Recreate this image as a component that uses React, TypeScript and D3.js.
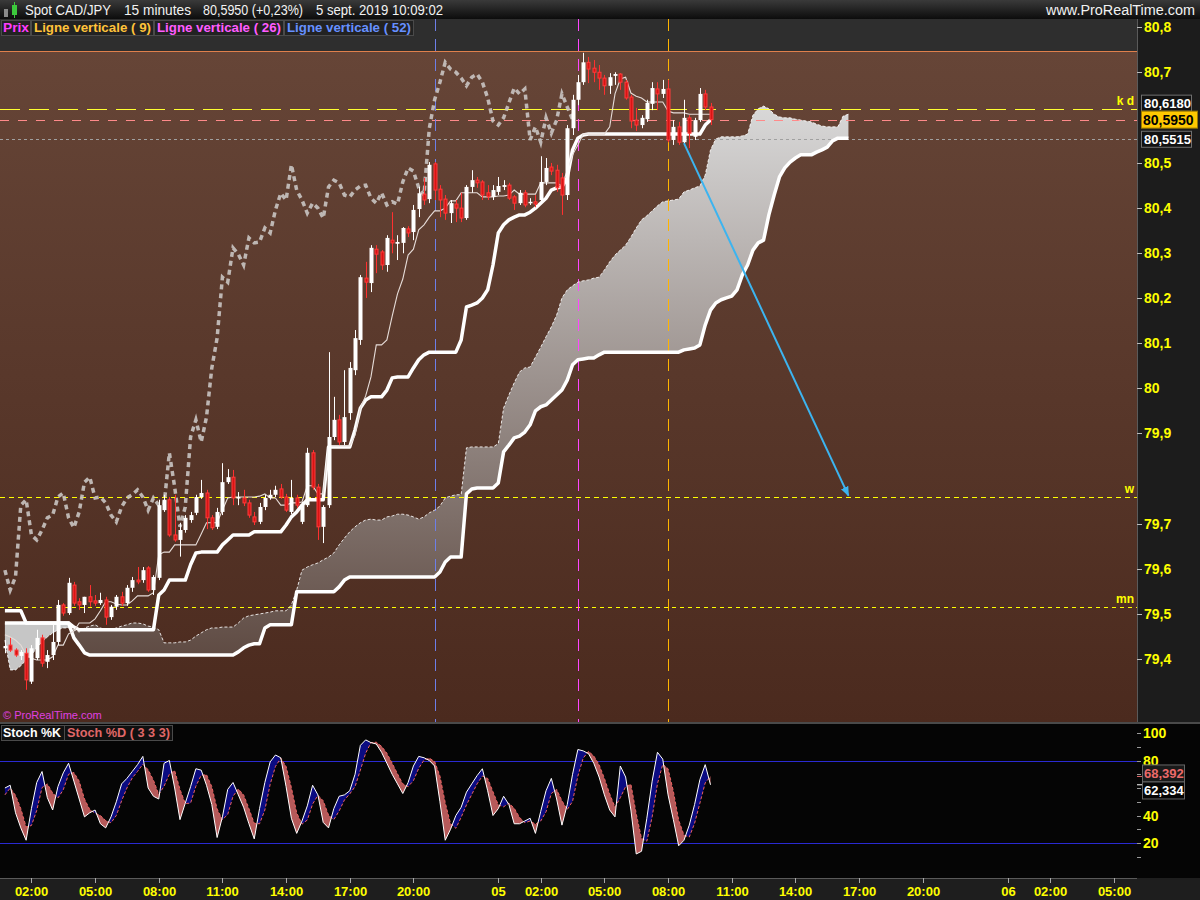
import React, { FC, useMemo } from 'react'
import * as d3 from 'd3'

type Candle = [number, number, number, number] // open, high, low, close

// bougies 15 minutes, première bougie le 04/09/2019 à 00:45
const firstBar = new Date(2019, 8, 4, 0, 45)
const barMinutes = 15

const candles: Candle[] = [
	[79.424, 79.442, 79.413, 79.429], [79.431, 79.447, 79.416, 79.420], [79.420, 79.424, 79.405, 79.409], [79.407, 79.420, 79.398, 79.416], [79.413, 79.424, 79.332, 79.354],
	[79.350, 79.431, 79.345, 79.424], [79.402, 79.465, 79.398, 79.447], [79.447, 79.454, 79.383, 79.391], [79.394, 79.420, 79.380, 79.409], [79.409, 79.476, 79.398, 79.438],
	[79.438, 79.531, 79.431, 79.520], [79.520, 79.524, 79.496, 79.502], [79.502, 79.580, 79.498, 79.569], [79.564, 79.571, 79.518, 79.524], [79.527, 79.535, 79.509, 79.520],
	[79.520, 79.538, 79.502, 79.538], [79.538, 79.564, 79.516, 79.527], [79.529, 79.542, 79.518, 79.524], [79.524, 79.547, 79.520, 79.531], [79.531, 79.538, 79.476, 79.493],
	[79.493, 79.520, 79.487, 79.516], [79.516, 79.542, 79.509, 79.538], [79.538, 79.549, 79.518, 79.524], [79.524, 79.564, 79.518, 79.558], [79.558, 79.582, 79.549, 79.575],
	[79.575, 79.604, 79.566, 79.571], [79.575, 79.604, 79.569, 79.597], [79.602, 79.606, 79.549, 79.553], [79.553, 79.586, 79.542, 79.582], [79.580, 79.753, 79.575, 79.741],
	[79.730, 79.764, 79.726, 79.753], [79.753, 79.759, 79.671, 79.675], [79.675, 79.764, 79.660, 79.664], [79.664, 79.702, 79.627, 79.686], [79.686, 79.719, 79.680, 79.713],
	[79.708, 79.726, 79.702, 79.719], [79.724, 79.764, 79.719, 79.759], [79.759, 79.797, 79.755, 79.768], [79.768, 79.775, 79.688, 79.713], [79.713, 79.719, 79.686, 79.691],
	[79.693, 79.735, 79.688, 79.726], [79.726, 79.834, 79.719, 79.792], [79.792, 79.821, 79.788, 79.803], [79.803, 79.819, 79.741, 79.757], [79.757, 79.770, 79.741, 79.759],
	[79.757, 79.775, 79.739, 79.746], [79.746, 79.753, 79.713, 79.719], [79.715, 79.726, 79.697, 79.704], [79.704, 79.746, 79.699, 79.737], [79.737, 79.764, 79.730, 79.757],
	[79.757, 79.775, 79.753, 79.764], [79.764, 79.784, 79.759, 79.775], [79.777, 79.788, 79.755, 79.759], [79.759, 79.766, 79.726, 79.730], [79.726, 79.797, 79.721, 79.757],
	[79.757, 79.764, 79.735, 79.741], [79.704, 79.748, 79.699, 79.741], [79.741, 79.868, 79.737, 79.857], [79.857, 79.863, 79.775, 79.781], [79.781, 79.788, 79.664, 79.693],
	[79.693, 79.741, 79.657, 79.737], [79.741, 80.080, 79.735, 79.892], [79.892, 79.981, 79.885, 79.930], [79.930, 79.941, 79.874, 79.881], [79.881, 80.040, 79.874, 79.936],
	[79.945, 80.058, 79.930, 80.045], [80.040, 80.129, 80.029, 80.111], [80.107, 80.251, 80.096, 80.246], [80.244, 80.280, 80.200, 80.235], [80.233, 80.317, 80.213, 80.311],
	[80.308, 80.317, 80.255, 80.297], [80.302, 80.306, 80.262, 80.273], [80.273, 80.339, 80.258, 80.333], [80.328, 80.390, 80.299, 80.322], [80.320, 80.339, 80.284, 80.324],
	[80.322, 80.357, 80.299, 80.355], [80.353, 80.359, 80.335, 80.344], [80.346, 80.406, 80.328, 80.395], [80.397, 80.446, 80.379, 80.432], [80.430, 80.466, 80.406, 80.417],
	[80.419, 80.501, 80.410, 80.495], [80.497, 80.501, 80.417, 80.439], [80.441, 80.450, 80.379, 80.417], [80.419, 80.428, 80.373, 80.388], [80.388, 80.417, 80.366, 80.410],
	[80.408, 80.417, 80.368, 80.399], [80.399, 80.433, 80.368, 80.377], [80.377, 80.450, 80.373, 80.446], [80.446, 80.483, 80.433, 80.461], [80.461, 80.468, 80.444, 80.455],
	[80.457, 80.461, 80.417, 80.428], [80.433, 80.450, 80.417, 80.424], [80.424, 80.450, 80.417, 80.439], [80.435, 80.468, 80.428, 80.448], [80.446, 80.461, 80.439, 80.450],
	[80.450, 80.455, 80.417, 80.421], [80.424, 80.428, 80.395, 80.410], [80.410, 80.439, 80.406, 80.433], [80.433, 80.439, 80.401, 80.406], [80.410, 80.421, 80.406, 80.413],
	[80.413, 80.428, 80.401, 80.408], [80.417, 80.514, 80.410, 80.457], [80.457, 80.510, 80.450, 80.488], [80.490, 80.499, 80.472, 80.481], [80.483, 80.495, 80.435, 80.444],
	[80.466, 80.477, 80.384, 80.428], [80.428, 80.583, 80.417, 80.576], [80.576, 80.650, 80.561, 80.639], [80.639, 80.694, 80.627, 80.678], [80.678, 80.743, 80.672, 80.722],
	[80.722, 80.734, 80.676, 80.707], [80.709, 80.727, 80.678, 80.700], [80.700, 80.716, 80.661, 80.687], [80.687, 80.694, 80.650, 80.670], [80.670, 80.698, 80.652, 80.689],
	[80.692, 80.700, 80.672, 80.696], [80.696, 80.698, 80.661, 80.678], [80.678, 80.683, 80.639, 80.643], [80.645, 80.650, 80.576, 80.592], [80.594, 80.621, 80.570, 80.583],
	[80.583, 80.605, 80.576, 80.599], [80.596, 80.639, 80.590, 80.632], [80.630, 80.678, 80.616, 80.665], [80.663, 80.678, 80.616, 80.652], [80.652, 80.683, 80.643, 80.663],
	[80.663, 80.683, 80.545, 80.550], [80.550, 80.594, 80.539, 80.579], [80.579, 80.590, 80.539, 80.545], [80.545, 80.639, 80.539, 80.599], [80.599, 80.605, 80.532, 80.565],
	[80.557, 80.599, 80.550, 80.594], [80.594, 80.665, 80.590, 80.652], [80.652, 80.661, 80.616, 80.623], [80.623, 80.632, 80.583, 80.595]
]

// Ichimoku (un point par bougie)
const tenkan = [
	79.454, 79.449, 79.442, 79.431, 79.409, 79.402, 79.398, 79.398, 79.398, 79.405,
	79.431, 79.431, 79.456, 79.462, 79.480, 79.480, 79.480, 79.489, 79.507, 79.527,
	79.527, 79.522, 79.520, 79.520, 79.529, 79.540, 79.540, 79.540, 79.547, 79.631,
	79.637, 79.637, 79.653, 79.653, 79.653, 79.653, 79.653, 79.677, 79.702, 79.702,
	79.702, 79.730, 79.757, 79.759, 79.759, 79.759, 79.759, 79.759, 79.761, 79.766,
	79.757, 79.757, 79.741, 79.741, 79.746, 79.746, 79.748, 79.784, 79.784, 79.766,
	79.766, 79.872, 79.872, 79.872, 79.872, 79.872, 79.896, 79.956, 79.983, 80.025,
	80.096, 80.096, 80.107, 80.160, 80.209, 80.242, 80.295, 80.308, 80.351, 80.362,
	80.379, 80.393, 80.393, 80.399, 80.415, 80.415, 80.433, 80.433, 80.433, 80.433,
	80.424, 80.424, 80.424, 80.426, 80.426, 80.428, 80.439, 80.430, 80.430, 80.430,
	80.430, 80.455, 80.455, 80.455, 80.455, 80.448, 80.483, 80.517, 80.539, 80.563,
	80.563, 80.563, 80.563, 80.563, 80.579, 80.652, 80.685, 80.689, 80.654, 80.647,
	80.643, 80.634, 80.634, 80.634, 80.634, 80.614, 80.610, 80.610, 80.610, 80.607,
	80.607, 80.607, 80.607, 80.607
]

const kijun = [
	79.507, 79.507, 79.507, 79.507, 79.480, 79.480, 79.480, 79.480, 79.480, 79.480,
	79.480, 79.480, 79.480, 79.471, 79.465, 79.465, 79.465, 79.465, 79.465, 79.465,
	79.465, 79.465, 79.465, 79.465, 79.465, 79.465, 79.465, 79.465, 79.465, 79.542,
	79.553, 79.575, 79.575, 79.575, 79.575, 79.609, 79.635, 79.637, 79.637, 79.637,
	79.637, 79.653, 79.664, 79.675, 79.675, 79.675, 79.675, 79.682, 79.682, 79.682,
	79.682, 79.682, 79.682, 79.697, 79.715, 79.726, 79.741, 79.753, 79.753, 79.753,
	79.753, 79.870, 79.870, 79.870, 79.870, 79.870, 79.908, 79.956, 79.974, 79.981,
	79.981, 79.981, 79.996, 80.023, 80.025, 80.025, 80.025, 80.045, 80.063, 80.074,
	80.080, 80.080, 80.080, 80.080, 80.080, 80.080, 80.107, 80.180, 80.184, 80.189,
	80.200, 80.218, 80.273, 80.344, 80.362, 80.373, 80.379, 80.384, 80.384, 80.390,
	80.399, 80.410, 80.421, 80.439, 80.444, 80.446, 80.466, 80.528, 80.554, 80.561,
	80.563, 80.563, 80.563, 80.563, 80.563, 80.563, 80.563, 80.563, 80.563, 80.563,
	80.563, 80.563, 80.563, 80.563, 80.563, 80.563, 80.563, 80.563, 80.563, 80.563,
	80.563, 80.563, 80.583, 80.594
]

// nuage : 26 bougies de plus que le prix
const senkouA = [
	79.442, 79.376, 79.376, 79.385, 79.398, 79.409, 79.425, 79.438, 79.449, 79.458,
	79.465, 79.469, 79.469, 79.465, 79.460, 79.469, 79.473, 79.476, 79.469, 79.465,
	79.465, 79.469, 79.473, 79.476, 79.480, 79.480, 79.478, 79.473, 79.471, 79.465,
	79.436, 79.436, 79.436, 79.438, 79.438, 79.442, 79.451, 79.458, 79.465, 79.469,
	79.469, 79.471, 79.471, 79.471, 79.480, 79.491, 79.496, 79.498, 79.500, 79.502,
	79.504, 79.507, 79.507, 79.507, 79.520, 79.553, 79.597, 79.604, 79.609, 79.613,
	79.620, 79.626, 79.635, 79.653, 79.668, 79.682, 79.693, 79.702, 79.708, 79.710,
	79.708, 79.708, 79.715, 79.717, 79.721, 79.721, 79.719, 79.715, 79.710, 79.715,
	79.724, 79.730, 79.739, 79.757, 79.761, 79.764, 79.764, 79.868, 79.870, 79.870,
	79.870, 79.870, 79.870, 79.877, 79.956, 79.985, 80.012, 80.036, 80.045, 80.047,
	80.069, 80.091, 80.114, 80.136, 80.162, 80.200, 80.218, 80.227, 80.235, 80.238,
	80.240, 80.244, 80.246, 80.262, 80.280, 80.295, 80.306, 80.317, 80.335, 80.355,
	80.373, 80.382, 80.393, 80.404, 80.413, 80.415, 80.417, 80.419, 80.435, 80.439,
	80.444, 80.448, 80.472, 80.528, 80.552, 80.557, 80.557, 80.557, 80.557, 80.559,
	80.563, 80.605, 80.619, 80.625, 80.619, 80.607, 80.601, 80.599, 80.599, 80.596,
	80.594, 80.592, 80.590, 80.585, 80.581, 80.579, 80.579, 80.579, 80.603, 80.607
]

const senkouB = [
	79.480, 79.480, 79.480, 79.480, 79.480, 79.480, 79.480, 79.480, 79.480, 79.480,
	79.480, 79.480, 79.480, 79.447, 79.431, 79.414, 79.409, 79.409, 79.409, 79.409,
	79.409, 79.409, 79.409, 79.409, 79.409, 79.409, 79.409, 79.409, 79.409, 79.409,
	79.409, 79.409, 79.409, 79.409, 79.409, 79.409, 79.409, 79.409, 79.409, 79.409,
	79.409, 79.409, 79.409, 79.409, 79.416, 79.425, 79.431, 79.434, 79.434, 79.469,
	79.476, 79.476, 79.476, 79.476, 79.476, 79.549, 79.549, 79.549, 79.549, 79.549,
	79.549, 79.549, 79.549, 79.560, 79.575, 79.582, 79.582, 79.582, 79.582, 79.582,
	79.582, 79.582, 79.582, 79.582, 79.582, 79.582, 79.582, 79.582, 79.582, 79.582,
	79.582, 79.582, 79.593, 79.615, 79.626, 79.626, 79.626, 79.766, 79.777, 79.779,
	79.779, 79.779, 79.779, 79.790, 79.859, 79.874, 79.890, 79.894, 79.903, 79.919,
	79.950, 79.959, 79.963, 79.974, 79.985, 79.996, 80.018, 80.052, 80.063, 80.065,
	80.067, 80.067, 80.074, 80.080, 80.080, 80.080, 80.080, 80.080, 80.080, 80.080,
	80.080, 80.080, 80.080, 80.080, 80.080, 80.080, 80.080, 80.080, 80.085, 80.087,
	80.089, 80.096, 80.140, 80.173, 80.189, 80.196, 80.200, 80.204, 80.218, 80.251,
	80.273, 80.306, 80.322, 80.328, 80.384, 80.428, 80.468, 80.488, 80.501, 80.510,
	80.517, 80.517, 80.517, 80.523, 80.528, 80.534, 80.548, 80.554, 80.554, 80.554
]

// stochastique (3 3 3)
const stochK = [
	60, 62, 42, 31, 22, 45, 64, 72, 53, 44,
	61, 71, 78, 65, 52, 39, 42, 44, 34, 31,
	39, 50, 63, 67, 72, 77, 83, 60, 54, 52,
	78, 80, 60, 37, 49, 61, 74, 73, 62, 48,
	24, 39, 59, 64, 55, 46, 34, 23, 45, 64,
	79, 84, 82, 61, 38, 27, 36, 47, 62, 55,
	35, 31, 45, 54, 55, 58, 70, 91, 95, 93,
	92, 86, 78, 70, 63, 56, 64, 76, 83, 82,
	80, 76, 50, 22, 30, 40, 46, 57, 63, 69,
	74, 58, 40, 45, 54, 48, 34, 34, 36, 38,
	27, 43, 58, 67, 52, 33, 48, 70, 88, 87,
	85, 78, 68, 55, 44, 39, 76, 68, 44, 12,
	14, 38, 65, 86, 81, 55, 37, 18, 22, 33,
	48, 66, 77, 62.334
]

const stochD = [
	55, 60, 54.7, 45, 31.7, 32.7, 43.7, 60.3, 63, 56.3,
	52.7, 58.7, 70, 71.3, 65, 52, 44.3, 41.7, 40, 36.3,
	34.7, 40, 50.7, 60, 67.3, 72, 77.3, 73.3, 65.7, 55.3,
	61.3, 70, 72.7, 59, 48.7, 49, 61.3, 69.3, 69.7, 61,
	44.7, 37, 40.7, 54, 59.3, 55, 45, 34.3, 34, 44,
	62.7, 75.7, 81.7, 75.7, 60.3, 42, 33.7, 36.7, 48.3, 54.7,
	50.7, 40.3, 37, 43.3, 51.3, 55.7, 61, 73, 85.3, 93,
	93.3, 90.3, 85.3, 78, 70.3, 63, 61, 65.3, 74.3, 80.3,
	81.7, 79.3, 68.7, 49.3, 34, 30.7, 38.7, 47.7, 55.3, 63,
	68.7, 67, 57.3, 47.7, 46.3, 49, 45.3, 38.7, 34.7, 36,
	33.7, 36, 42.7, 56, 59, 50.7, 44.3, 50.3, 68.7, 81.7,
	86.7, 83.3, 77, 67, 55.7, 46, 53, 61, 62.7, 41.3,
	23.3, 21.3, 39, 63, 77.3, 74, 57.7, 36.7, 25.7, 24.3,
	34.3, 49, 63.7, 68.392
]

const priceTicks = [80.8, 80.7, 80.5, 80.4, 80.3, 80.2, 80.1, 80, 79.9, 79.7, 79.6, 79.5, 79.4]
const stochTicks = [100, 80, 40, 20]
const stochMinor = [10, 20, 30, 40, 50, 60, 70, 80, 90, 100]
const stochBands = [80, 20]
const timeTicks = [
	'2019-09-04T02:00', '2019-09-04T05:00', '2019-09-04T08:00', '2019-09-04T11:00', '2019-09-04T14:00',
	'2019-09-04T17:00', '2019-09-04T20:00', '2019-09-05T00:00', '2019-09-05T02:00', '2019-09-05T05:00',
	'2019-09-05T08:00', '2019-09-05T11:00', '2019-09-05T14:00', '2019-09-05T17:00', '2019-09-05T20:00',
	'2019-09-06T00:00', '2019-09-06T02:00', '2019-09-06T05:00'
]
const verticals = [
	{ time: '2019-09-04T21:00', color: '#6d7fe8' },
	{ time: '2019-09-05T03:45', color: '#ff46ff' },
	{ time: '2019-09-05T08:00', color: '#ffb400' }
]
const levels = [
	{ price: 80.618, color: '#ffff30', dash: '20 9', label: 'k d' },
	{ price: 80.595, color: '#ff8a8a', dash: '9 9', label: '' },
	{ price: 80.5515, color: '#a0a0a0', dash: '3 3', label: '' },
	{ price: 79.759, color: '#ffff00', dash: '5 4', label: 'w' },
	{ price: 79.515, color: '#ffff00', dash: '4 4', label: 'mn' }
]
const lastPrice = 80.595
const trendArrow = { from: ['2019-09-05T08:45', 80.543], to: ['2019-09-05T16:30', 79.762] }

const font = 'Arial, "Liberation Sans", sans-serif'
const plotRight = 1137
const headerH = 19
const brownTop = 51
const priceBottom = 722
const stochTop = 724
const stochBottom = 878

const parse = d3.timeParse('%Y-%m-%dT%H:%M')
const barTime = (i: number) => new Date(firstBar.getTime() + i * barMinutes * 60000)
const comma = (v: number) => String(v).replace('.', ',')

type Pt = [number, number]
interface IBand {
	up: boolean
	top: Pt[]
	bot: Pt[]
}

// zones entre deux séries, découpées aux croisements
const buildBands = (a: number[], b: number[], xOf: (i: number) => number, yOf: (v: number) => number) => {
	const bands: IBand[] = []
	let cur: IBand | null = null
	for (let i = 0; i < a.length; i++) {
		const d = a[i] - b[i]
		const up = d >= 0
		const pa: Pt = [xOf(i), yOf(a[i])]
		const pb: Pt = [xOf(i), yOf(b[i])]
		if (!cur) {
			cur = { up, top: [pa], bot: [pb] }
			continue
		}
		if (up !== cur.up) {
			const dp = a[i - 1] - b[i - 1]
			const t = dp / (dp - d)
			const xm = xOf(i - 1) + t * (xOf(i) - xOf(i - 1))
			const pm: Pt = [xm, yOf(a[i - 1] + t * (a[i] - a[i - 1]))]
			cur.top.push(pm)
			cur.bot.push(pm)
			bands.push(cur)
			cur = { up, top: [pm, pa], bot: [pm, pb] }
		} else {
			cur.top.push(pa)
			cur.bot.push(pb)
		}
	}
	if (cur) bands.push(cur)
	return bands
}

const bandPath = (b: IBand) =>
	'M' + b.top.map((p) => p.join(',')).join('L') + 'L' + [...b.bot].reverse().map((p) => p.join(',')).join('L') + 'Z'

const App: FC = () => {
	const x = useMemo(
		() => d3.scaleTime().domain([firstBar, barTime(candles.length - 1)]).range([4.9, 710.5]),
		[]
	)
	const y = useMemo(() => d3.scaleLinear().domain([79.4, 80.8]).range([659.1, 27.1]), [])
	const ys = useMemo(() => d3.scaleLinear().domain([0, 100]).range([870.5, 733]), [])

	const xi = (i: number) => x(barTime(i))
	const line = (vals: number[], sc: (v: number) => number) =>
		d3
			.line<number>()
			.x((_, i) => xi(i))
			.y((d) => sc(d))(vals) || ''

	const cloud = useMemo(() => buildBands(senkouA, senkouB, xi, y), [])
	const stoch = useMemo(() => buildBands(stochK, stochD, xi, ys), [])
	const chikou = candles.slice(26).map((c) => c[3])

	const ax = x(parse(trendArrow.from[0] as string) as Date)
	const ay = y(trendArrow.from[1] as number)
	const bx = x(parse(trendArrow.to[0] as string) as Date)
	const by = y(trendArrow.to[1] as number)

	const yLast = y(lastPrice)
	const lastK = stochK[stochK.length - 1]
	const lastD = stochD[stochD.length - 1]

	return (
		<svg
			width={1200}
			height={900}
			style={{ position: 'absolute', left: 0, top: 0, display: 'block', background: '#1e1e1e' }}
			fontFamily={font}
		>
			<defs>
				<linearGradient id="head" x1="0" y1="0" x2="0" y2="1">
					<stop offset="0" stopColor="#3a3a3a" />
					<stop offset="1" stopColor="#0c0c0c" />
				</linearGradient>
				<linearGradient id="brown" x1="0" y1="0" x2="0" y2="1">
					<stop offset="0" stopColor="#664537" />
					<stop offset="1" stopColor="#4b2a1e" />
				</linearGradient>
				<linearGradient id="cloud" gradientUnits="userSpaceOnUse" x1="0" y1="100" x2="0" y2="660">
					<stop offset="0" stopColor="#dadada" />
					<stop offset="1" stopColor="#5e4a42" />
				</linearGradient>
				<marker id="arr" viewBox="0 0 10 10" refX="9" refY="5" markerWidth="10" markerHeight="10" orient="auto" markerUnits="userSpaceOnUse">
					<path d="M0,1 L10,5 L0,9 Z" fill="#3cb4f0" />
				</marker>
				<clipPath id="pricePlot">
					<rect x={0} y={headerH} width={plotRight} height={priceBottom - headerH} />
				</clipPath>
				<clipPath id="stochPlot">
					<rect x={0} y={stochTop} width={plotRight} height={stochBottom - stochTop} />
				</clipPath>
			</defs>

			{/* en-tête */}
			<rect x={0} y={0} width={1200} height={headerH} fill="url(#head)" />
			<rect x={4} y={9} width={4} height={8} fill="#8a8a8a" />
			<line x1={14.5} x2={14.5} y1={2} y2={18} stroke="#3cc83c" />
			<rect x={12} y={5} width={5} height={10} fill="#3cc83c" />
			<g fill="#f2f2f2" fontSize={14}>
				<text x={25} y={15} textLength={86} lengthAdjust="spacingAndGlyphs">Spot CAD/JPY</text>
				<text x={124} y={15} textLength={67} lengthAdjust="spacingAndGlyphs">15 minutes</text>
				<text x={203} y={15} textLength={100} lengthAdjust="spacingAndGlyphs">80,5950 (+0,23%)</text>
				<text x={316} y={15} textLength={127} lengthAdjust="spacingAndGlyphs">5 sept. 2019 10:09:02</text>
				<text x={1046} y={15} textLength={149} lengthAdjust="spacingAndGlyphs">www.ProRealTime.com</text>
			</g>

			{/* panneau prix */}
			<rect x={0} y={headerH} width={plotRight} height={brownTop - headerH} fill="#2e2e2e" />
			<rect x={0} y={brownTop} width={plotRight} height={priceBottom - brownTop} fill="url(#brown)" />
			<line x1={0} x2={plotRight} y1={brownTop + 0.5} y2={brownTop + 0.5} stroke="#e0804c" />
			<rect x={plotRight} y={headerH} width={1200 - plotRight} height={priceBottom - headerH} fill="#1c1c1c" />

			<g clipPath="url(#pricePlot)">
				{cloud.map((b, i) => (
					<path key={i} d={bandPath(b)} fill={b.up ? 'url(#cloud)' : '#c6c6c6'} />
				))}

				{levels.map((l, i) => (
					<line
						key={i}
						x1={0}
						x2={plotRight}
						y1={Math.round(y(l.price)) + 0.5}
						y2={Math.round(y(l.price)) + 0.5}
						stroke={l.color}
						strokeDasharray={l.dash}
					/>
				))}

				{verticals.map((v, i) => {
					const vx = Math.round(x(parse(v.time) as Date)) + 0.5
					return (
						<line key={i} x1={vx} x2={vx} y1={headerH} y2={priceBottom} stroke={v.color} strokeDasharray="12 8" />
					)
				})}

				<path
					d={line(chikou, y)}
					fill="none"
					stroke="#c9c4c2"
					strokeWidth={3.5}
					strokeDasharray="5 4"
					opacity={0.9}
				/>
				<path d={line(senkouA, y)} fill="none" stroke="#ffffff" strokeWidth={1} strokeDasharray="3 2" opacity={0.85} />
				<path d={line(senkouB, y)} fill="none" stroke="#ffffff" strokeWidth={3.5} strokeLinejoin="round" />
				<path d={line(kijun, y)} fill="none" stroke="#ffffff" strokeWidth={3.5} strokeLinejoin="round" />
				<path d={line(tenkan, y)} fill="none" stroke="#e6dcd8" strokeWidth={1.1} />

				{candles.map(([o, h, l, c], i) => {
					const cx = Math.round(xi(i)) + 0.5
					const up = c >= o
					const top = y(Math.max(o, c))
					const bot = y(Math.min(o, c))
					return (
						<g key={i}>
							<line x1={cx} x2={cx} y1={y(h)} y2={y(l)} stroke={up ? '#ffffff' : '#ff3030'} />
							{up ? (
								<rect x={cx - 2} y={top} width={4} height={Math.max(1.5, bot - top)} fill="#ffffff" />
							) : (
								<rect
									x={cx - 1.5}
									y={top}
									width={3}
									height={Math.max(1, bot - top)}
									fill="#d81414"
									stroke="#ff3c3c"
									strokeWidth={1}
								/>
							)}
						</g>
					)
				})}

				<line x1={ax} y1={ay} x2={bx} y2={by} stroke="#3cb4f0" strokeWidth={2} markerEnd="url(#arr)" />
			</g>

			{/* libellés des niveaux */}
			{levels
				.filter((l) => l.label)
				.map((l, i) => (
					<text
						key={i}
						x={plotRight - 3}
						y={y(l.price) - 4}
						textAnchor="end"
						fill="#ffff00"
						fontSize={12}
						fontWeight="bold"
					>
						{l.label}
					</text>
				))}

			{/* légende prix */}
			<g fontSize={13} fontWeight="bold">
				<rect x={1.5} y={20.5} width={29} height={15} fill="#222" stroke="#4a4a4a" />
				<text x={3} y={32} fill="#ff3cff" textLength={26} lengthAdjust="spacingAndGlyphs">Prix</text>
				<rect x={31.5} y={20.5} width={122} height={15} fill="#222" stroke="#4a4a4a" />
				<text x={34} y={32} fill="#ffc23a" textLength={117} lengthAdjust="spacingAndGlyphs">Ligne verticale ( 9)</text>
				<rect x={154.5} y={20.5} width={129} height={15} fill="#222" stroke="#4a4a4a" />
				<text x={157} y={32} fill="#ff5cff" textLength={124} lengthAdjust="spacingAndGlyphs">Ligne verticale ( 26)</text>
				<rect x={284.5} y={20.5} width={129} height={15} fill="#222" stroke="#4a4a4a" />
				<text x={287} y={32} fill="#6690ff" textLength={124} lengthAdjust="spacingAndGlyphs">Ligne verticale ( 52)</text>
			</g>
			<text x={3} y={719} fill="#e040e0" fontSize={11}>© ProRealTime.com</text>

			{/* axe des prix */}
			<line x1={plotRight + 0.5} x2={plotRight + 0.5} y1={headerH} y2={stochBottom} stroke="#5a5a5a" />
			{priceTicks.map((p) => (
				<g key={p}>
					<line x1={plotRight} x2={plotRight + 5} y1={Math.round(y(p)) + 0.5} y2={Math.round(y(p)) + 0.5} stroke="#bbbbbb" />
					<text x={plotRight + 7} y={y(p)} dy="0.36em" fill="#ffff00" fontSize={14} fontWeight="bold">
						{comma(p)}
					</text>
				</g>
			))}
			<g fontWeight="bold">
				<rect x={plotRight + 4.5} y={yLast - 24.5} width={50} height={16} fill="#121212" stroke="#707070" />
				<text x={plotRight + 7} y={yLast - 16.5} dy="0.36em" fill="#ffffff" fontSize={13}>
					80,6180
				</text>
				<rect x={plotRight + 4.5} y={yLast - 8.5} width={56} height={17} fill="#ffc800" stroke="#9a7a00" />
				<text x={plotRight + 6} y={yLast} dy="0.36em" fill="#000000" fontSize={14}>
					{comma(lastPrice) + '0'}
				</text>
				<rect x={plotRight + 4.5} y={y(80.5515) - 8} width={50} height={16} fill="#121212" stroke="#707070" />
				<text x={plotRight + 7} y={y(80.5515)} dy="0.36em" fill="#ffffff" fontSize={13}>
					80,5515
				</text>
			</g>

			{/* séparation */}
			<rect x={0} y={priceBottom} width={1200} height={stochTop - priceBottom} fill="#4a4a4a" />

			{/* panneau stochastique */}
			<rect x={0} y={stochTop} width={1200} height={stochBottom - stochTop} fill="#050505" />
			<g clipPath="url(#stochPlot)">
				{stochBands.map((v) => (
					<line key={v} x1={0} x2={plotRight} y1={Math.round(ys(v)) + 0.5} y2={Math.round(ys(v)) + 0.5} stroke="#2a2ad2" />
				))}
				{stoch.map((b, i) => (
					<path key={i} d={bandPath(b)} fill={b.up ? '#0b0b82' : '#b65a5a'} />
				))}
				<path d={line(stochD, ys)} fill="none" stroke="#ec6262" strokeWidth={1} strokeDasharray="3 2" />
				<path d={line(stochK, ys)} fill="none" stroke="#ffffff" strokeWidth={1} />
			</g>
			<g fontSize={13} fontWeight="bold">
				<rect x={1.5} y={725.5} width={63} height={15} fill="#111" stroke="#4a4a4a" />
				<text x={3} y={737} fill="#ffffff" textLength={58} lengthAdjust="spacingAndGlyphs">Stoch %K</text>
				<rect x={64.5} y={725.5} width={108} height={15} fill="#111" stroke="#4a4a4a" />
				<text x={67} y={737} fill="#e06868" textLength={103} lengthAdjust="spacingAndGlyphs">Stoch %D ( 3 3 3)</text>
			</g>
			{stochMinor.map((v) => (
				<line key={v} x1={plotRight} x2={plotRight + 4} y1={Math.round(ys(v)) + 0.5} y2={Math.round(ys(v)) + 0.5} stroke="#999999" />
			))}
			{stochTicks.map((v) => (
				<text key={v} x={plotRight + 6} y={ys(v)} dy="0.36em" fill="#ffff00" fontSize={14} fontWeight="bold">
					{v}
				</text>
			))}
			<g fontWeight="bold" fontSize={13}>
				<line x1={plotRight} x2={plotRight + 5} y1={ys(lastD)} y2={ys(lastD)} stroke="#e06868" />
				<rect x={plotRight + 5.5} y={ys(lastD) - 11.5} width={42} height={17} fill="#1a1a1a" stroke="#666" />
				<text x={plotRight + 7} y={ys(lastD) - 3} dy="0.36em" fill="#ec6a6a">
					{comma(lastD)}
				</text>
				<line x1={plotRight} x2={plotRight + 5} y1={ys(lastK)} y2={ys(lastK)} stroke="#ffffff" />
				<rect x={plotRight + 5.5} y={ys(lastD) + 5.5} width={42} height={17} fill="#050505" stroke="#666" />
				<text x={plotRight + 7} y={ys(lastD) + 14} dy="0.36em" fill="#ffffff">
					{comma(lastK)}
				</text>
			</g>

			{/* axe du temps */}
			<rect x={0} y={stochBottom} width={1200} height={900 - stochBottom} fill="#1e1e1e" />
			<line x1={0} x2={plotRight} y1={stochBottom + 0.5} y2={stochBottom + 0.5} stroke="#5a5a5a" />
			{timeTicks.map((t) => {
				const d = parse(t) as Date
				const tx = Math.round(x(d)) + 0.5
				const label = d.getHours() === 0 ? d3.timeFormat('%d')(d) : d3.timeFormat('%H:%M')(d)
				return (
					<g key={t}>
						<line x1={tx} x2={tx} y1={stochBottom} y2={stochBottom + 5} stroke="#aaaaaa" />
						<text x={tx} y={896} textAnchor="middle" fill="#ffff00" fontSize={13} fontWeight="bold">
							{label}
						</text>
					</g>
				)
			})}
		</svg>
	)
}

export default App
